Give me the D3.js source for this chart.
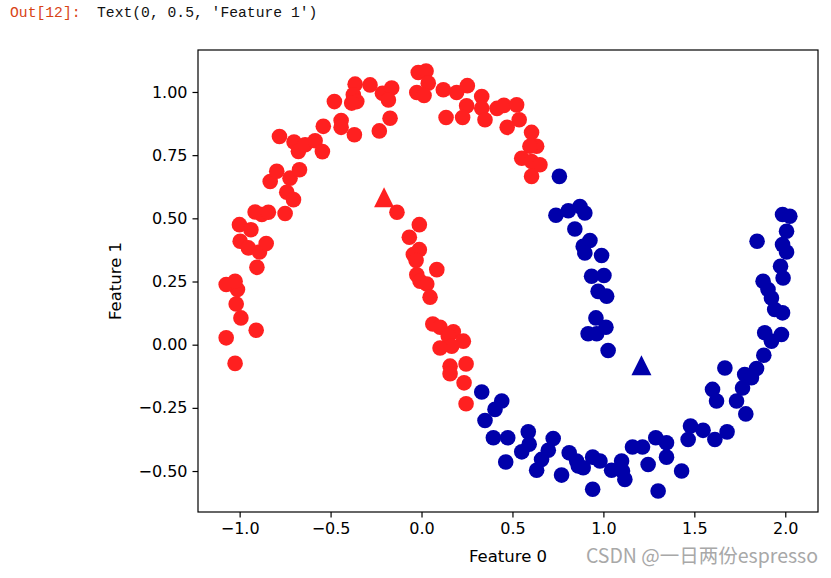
<!DOCTYPE html>
<html>
<head>
<meta charset="utf-8">
<script src="https://cdn.jsdelivr.net/npm/d3@7"></script>
<style>
    body { margin: 0; background: #fff; }
    svg { display: block; }
</style>
</head>
<body>
<div id="chart"></div>
<script>
// cluster 0 (blue) points
var blueX = [0.758, 0.739, 0.807, 0.871, 0.898, 0.843, 0.926, 0.889, 0.898, 0.990,
    0.935, 1.003, 0.971, 1.018, 0.959, 1.014, 0.916, 0.963, 1.026, 0.331,
    0.441, 0.404, 0.349, 0.395, 0.474, 0.587, 0.592, 0.551, 0.463, 0.724,
    0.697, 0.660, 0.633, 0.770, 0.812, 0.853, 0.862, 0.889, 0.941, 0.981,
    0.941, 1.045, 1.100, 1.105, 1.118, 1.160, 1.215, 1.288, 1.347, 1.347,
    1.246, 1.430, 1.301, 1.479, 1.466, 1.548, 1.613, 1.680, 1.600, 1.622,
    1.732, 1.783, 1.765, 1.668, 1.777, 1.842, 1.814, 1.882, 1.887, 1.924,
    1.979, 1.942, 1.985, 1.924, 1.905, 1.878, 1.988, 1.974, 2.007, 1.985,
    1.845, 2.007, 1.985, 2.025];
var blueY = [0.666, 0.512, 0.530, 0.547, 0.521, 0.458, 0.412, 0.389, 0.363, 0.353,
    0.271, 0.274, 0.211, 0.192, 0.106, 0.069, 0.043, 0.043, -0.023, -0.187,
    -0.223, -0.256, -0.300, -0.368, -0.368, -0.345, -0.394, -0.424, -0.464, -0.371,
    -0.418, -0.454, -0.497, -0.516, -0.428, -0.460, -0.480, -0.487, -0.445, -0.460,
    -0.572, -0.497, -0.460, -0.500, -0.533, -0.405, -0.405, -0.368, -0.388, -0.445,
    -0.474, -0.500, -0.579, -0.322, -0.375, -0.339, -0.375, -0.345, -0.177, -0.223,
    -0.223, -0.274, -0.171, -0.092, -0.118, -0.094, -0.131, -0.042, 0.047, 0.014,
    0.040, 0.139, 0.126, 0.185, 0.218, 0.251, 0.264, 0.310, 0.367, 0.396,
    0.409, 0.449, 0.515, 0.508];

// cluster 1 (red) points
var redX = [-1.074, -1.025, -0.909, -0.993, -1.019, -1.012, -1.074, -1.025, -0.905, -0.997,
    -0.952, -0.891, -0.854, -1.001, -0.938, -0.915, -0.878, -0.842, -0.750, -0.832,
    -0.796, -0.723, -0.671, -0.741, -0.704, -0.781, -0.701, -0.677, -0.640, -0.585,
    -0.545, -0.540, -0.479, -0.442, -0.442, -0.369, -0.365, -0.375, -0.356, -0.384,
    -0.283, -0.215, -0.164, -0.182, -0.173, -0.232, -0.018, 0.025, 0.037, -0.026,
    0.014, 0.120, 0.193, 0.252, 0.248, 0.226, 0.135, 0.331, 0.331, 0.349,
    0.415, 0.453, 0.523, 0.537, 0.471, 0.605, 0.633, 0.596, 0.551, 0.605,
    0.651, 0.605, -0.135, -0.012, -0.067, -0.012, -0.045, -0.030, 0.084, -0.026,
    -0.008, 0.029, 0.047, 0.062, 0.102, 0.175, 0.147, 0.230, 0.166, 0.102,
    0.245, 0.157, 0.157, 0.234, 0.245];
var redY = [0.027, -0.074, 0.057, 0.106, 0.161, 0.218, 0.238, 0.251, 0.306, 0.409,
    0.383, 0.367, 0.400, 0.475, 0.455, 0.525, 0.515, 0.524, 0.519, 0.646,
    0.686, 0.659, 0.692, 0.603, 0.574, 0.824, 0.802, 0.765, 0.791, 0.807,
    0.764, 0.864, 0.962, 0.887, 0.860, 0.831, 1.031, 0.989, 0.962, 0.956,
    1.028, 0.995, 1.016, 0.968, 0.896, 0.846, 1.077, 1.083, 1.035, 0.998,
    0.986, 1.009, 0.998, 1.025, 0.945, 0.899, 0.899, 0.982, 0.936, 0.890,
    0.935, 0.947, 0.949, 0.890, 0.860, 0.840, 0.785, 0.785, 0.738, 0.725,
    0.712, 0.666, 0.524, 0.475, 0.425, 0.376, 0.357, 0.333, 0.297, 0.277,
    0.251, 0.240, 0.188, 0.082, 0.069, 0.051, 0.034, 0.014, -0.006, -0.013,
    -0.076, -0.085, -0.115, -0.151, -0.234];

// cluster centers: blue first, then red
var centerX = [1.209, -0.206];
var centerY = [-0.081, 0.583];

var clusterColors = ["#0000aa", "#ff2020"];
var xTicks = [-1.0, -0.5, 0.0, 0.5, 1.0, 1.5, 2.0];
var yTicks = [-0.50, -0.25, 0.00, 0.25, 0.50, 0.75, 1.00];

window.onload = function() {
    var fullWidth = 831;
    var fullHeight = 578;
    var margin = {"top" : 50, "right" : 13, "bottom" : 66, "left" : 198};

    var svg = d3.select("#chart").append("svg").attr("width", fullWidth).attr("height", fullHeight);

    // notebook output line
    var outLine = svg.append("text").attr("x", 10).attr("y", 17)
        .style("font-family", "'Liberation Mono', 'DejaVu Sans Mono', monospace")
        .style("font-size", "14.7px");
    outLine.append("tspan").attr("fill", "#d84315").text("Out[12]:");
    outLine.append("tspan").attr("fill", "#111").attr("x", 97).text("Text(0, 0.5, 'Feature 1')");

    // build point list
    var points = [];
    for (var i = 0; i < blueX.length; i++) {
        points.push({"x" : blueX[i], "y" : blueY[i], "c" : 0});
    }
    for (var i = 0; i < redX.length; i++) {
        points.push({"x" : redX[i], "y" : redY[i], "c" : 1});
    }

    // matplotlib style 5% margins
    var xExt = d3.extent(points, function(d) { return d.x; });
    var yExt = d3.extent(points, function(d) { return d.y; });
    var xPad = (xExt[1] - xExt[0]) * 0.05;
    var yPad = (yExt[1] - yExt[0]) * 0.05;

    var x = d3.scaleLinear().domain([xExt[0] - xPad, xExt[1] + xPad])
        .range([margin.left, fullWidth - margin.right]);
    var y = d3.scaleLinear().domain([yExt[0] - yPad, yExt[1] + yPad])
        .range([fullHeight - margin.bottom, margin.top]);

    var plot = svg.append("g");

    // points
    plot.selectAll(".pt").data(points).enter().append("circle").attr("class", "pt")
        .attr("cx", function(d) { return x(d.x); })
        .attr("cy", function(d) { return y(d.y); })
        .attr("r", 7.8)
        .attr("fill", function(d) { return clusterColors[d.c]; });

    // cluster centers as triangles
    plot.selectAll(".center").data(centerX).enter().append("path").attr("class", "center")
        .attr("d", "M0,-10L10,10L-10,10Z")
        .attr("transform", function(d, i) {
            return "translate(" + x(centerX[i]) + "," + y(centerY[i]) + ")";
        })
        .attr("fill", function(d, i) { return clusterColors[i]; });

    // axes
    var xAxis = d3.axisBottom(x).tickValues(xTicks).tickFormat(d3.format(".1f"))
        .tickSizeInner(5.5).tickSizeOuter(0).tickPadding(5);
    var yAxis = d3.axisLeft(y).tickValues(yTicks).tickFormat(d3.format(".2f"))
        .tickSizeInner(5.5).tickSizeOuter(0).tickPadding(5);

    var gx = svg.append("g").attr("transform", "translate(0," + (fullHeight - margin.bottom) + ")").call(xAxis);
    var gy = svg.append("g").attr("transform", "translate(" + margin.left + ",0)").call(yAxis);
    [gx, gy].forEach(function(g) {
        g.select(".domain").remove();
        g.selectAll("line").attr("stroke", "#000").attr("stroke-width", 1.2);
        g.selectAll("text").attr("fill", "#000")
            .style("font-family", "'DejaVu Sans', sans-serif").style("font-size", "16px");
    });

    // frame
    svg.append("rect").attr("x", margin.left).attr("y", margin.top)
        .attr("width", fullWidth - margin.left - margin.right)
        .attr("height", fullHeight - margin.top - margin.bottom)
        .attr("fill", "none").attr("stroke", "#000").attr("stroke-width", 1.2);

    // axis labels
    svg.append("text").attr("x", (margin.left + fullWidth - margin.right) / 2).attr("y", 562)
        .attr("text-anchor", "middle").attr("fill", "#000")
        .style("font-family", "'DejaVu Sans', sans-serif").style("font-size", "16.5px")
        .text("Feature 0");
    svg.append("text").attr("transform", "translate(121," + ((margin.top + fullHeight - margin.bottom) / 2) + ") rotate(-90)")
        .attr("text-anchor", "middle").attr("fill", "#000")
        .style("font-family", "'DejaVu Sans', sans-serif").style("font-size", "16.5px")
        .text("Feature 1");

    // watermark
    svg.append("text").attr("x", 818).attr("y", 563).attr("text-anchor", "end")
        .attr("fill", "#a8a8a8")
        .style("font-family", "'Noto Sans CJK SC', 'Noto Sans', sans-serif").style("font-size", "19.5px")
        .text("CSDN @一日两份espresso");
};
</script>
</body>
</html>
